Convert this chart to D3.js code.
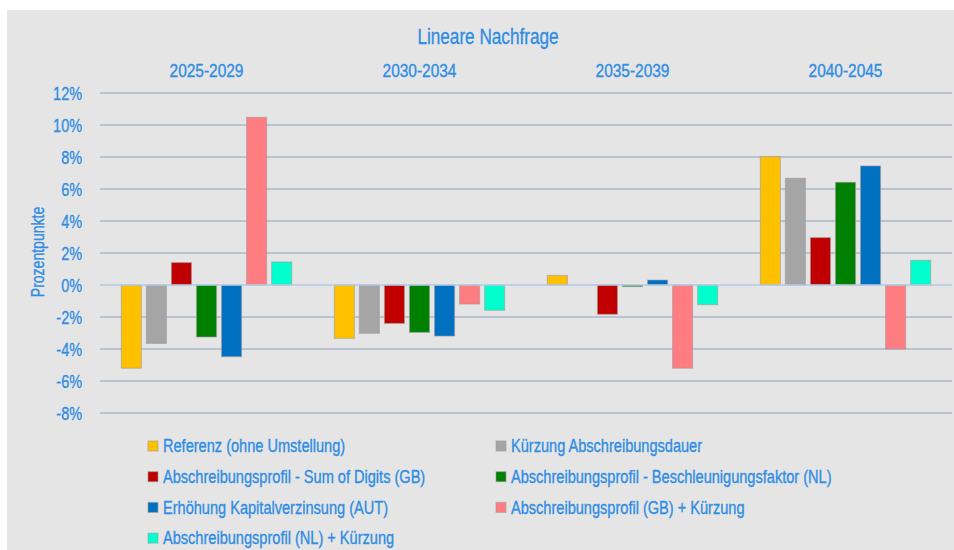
<!DOCTYPE html>
<html><head>
<meta charset="utf-8">
<script src="https://d3js.org/d3.v7.min.js"></script>
<style>
  body { margin: 0; background: white; }
  text { font-family: "Liberation Sans", Arial, sans-serif; fill: #2f8de4; stroke: #2f8de4; stroke-width: 0.35px; }
</style>
</head>
<body>
<svg id="chart" width="954" height="550"></svg>
<script>
  const periods = ["2025-2029", "2030-2034", "2035-2039", "2040-2045"];
  const seriesNames = [
    "Referenz (ohne Umstellung)",
    "Kürzung Abschreibungsdauer",
    "Abschreibungsprofil - Sum of Digits (GB)",
    "Abschreibungsprofil - Beschleunigungsfaktor (NL)",
    "Erhöhung Kapitalverzinsung (AUT)",
    "Abschreibungsprofil (GB) + Kürzung",
    "Abschreibungsprofil (NL) + Kürzung"
  ];
  const seriesColors = ["#ffc000", "#a5a5a5", "#c00000", "#008000", "#0070c0", "#ff7c80", "#00ffcc"];
  // values in % per series, one per period
  const referenz     = [-5.2, -3.33, 0.6, 8.02];
  const kuerzung     = [-3.65, -3.02, 0, 6.67];
  const sumOfDigits  = [1.4, -2.4, -1.83, 2.96];
  const beschleunig  = [-3.25, -2.96, -0.1, 6.42];
  const kapitalzins  = [-4.48, -3.19, 0.31, 7.44];
  const gbKuerzung   = [10.48, -1.19, -5.2, -4.0];
  const nlKuerzung   = [1.44, -1.58, -1.23, 1.54];
  const seriesValues = [referenz, kuerzung, sumOfDigits, beschleunig, kapitalzins, gbKuerzung, nlKuerzung];
  const yTicks = [12, 10, 8, 6, 4, 2, 0, -2, -4, -6, -8];

  const svg = d3.select("svg#chart");
  const margin = { top: 93, right: 2, bottom: 137, left: 100 };
  const width = 954, height = 550;
  const SX = 0.81; // squeeze text horizontally, the original font is a narrow one

  svg.append("rect").attr("x", 7).attr("y", 10).attr("width", width - 7).attr("height", height - 10)
    .attr("fill", "#e5e5e5");

  const y = d3.scaleLinear().domain([-8, 12]).range([height - margin.bottom, margin.top]);
  const x0 = d3.scaleBand().domain(periods).range([margin.left, width - margin.right]);
  const x1 = d3.scaleBand().domain(d3.range(seriesNames.length))
    .range([0, x0.bandwidth()]).paddingInner(0.2).paddingOuter(0.85);

  // gridlines
  svg.append("g").selectAll("line").data(yTicks.filter(d => d !== 0)).join("line")
    .attr("x1", margin.left).attr("x2", width - margin.right)
    .attr("y1", d => y(d)).attr("y2", d => y(d))
    .attr("stroke", "#a9b6c8")
    .attr("stroke-width", 1.6);

  // y tick labels
  svg.append("g").selectAll("text").data(yTicks).join("text")
    .attr("transform", d => `translate(82,${y(d)}) scale(0.76,1)`)
    .attr("dy", "0.35em")
    .attr("text-anchor", "end").attr("font-size", 19)
    .text(d => d + "%");

  // period labels on top
  svg.append("g").selectAll("text").data(periods).join("text")
    .attr("transform", d => `translate(${x0(d) + x0.bandwidth() / 2},77) scale(0.86,1)`)
    .attr("text-anchor", "middle").attr("font-size", 18)
    .text(d => d);

  // title
  svg.append("text").attr("transform", `translate(488,44) scale(0.78,1)`).attr("text-anchor", "middle")
    .attr("font-size", 22).text("Lineare Nachfrage");

  // y axis title
  svg.append("text").attr("transform", `translate(44,252) rotate(-90) scale(0.78,1)`)
    .attr("text-anchor", "middle").attr("font-size", 18).text("Prozentpunkte");

  // bars
  const groups = svg.append("g").selectAll("g").data(periods).join("g")
    .attr("transform", d => `translate(${x0(d)},0)`);
  groups.selectAll("rect")
    .data((p, pi) => seriesValues.map((vals, si) => ({ si: si, v: vals[pi] })))
    .join("rect")
    .attr("x", d => x1(d.si))
    .attr("width", x1.bandwidth())
    .attr("y", d => y(Math.max(0, d.v)))
    .attr("height", d => Math.abs(y(d.v) - y(0)))
    .attr("fill", d => seriesColors[d.si])
    .attr("stroke", d => d.v === 0 ? "none" : "#999")
    .attr("stroke-opacity", 0.6)
    .attr("stroke-width", 1);

  // zero line on top of the bars
  svg.append("line")
    .attr("x1", margin.left).attr("x2", width - margin.right)
    .attr("y1", y(0)).attr("y2", y(0))
    .attr("stroke", "#b2cbe4").attr("stroke-width", 1.6);

  // legend
  const legendPos = seriesNames.map((n, i) => ({ name: n, i: i, col: i % 2, row: Math.floor(i / 2) }));
  const legend = svg.append("g").selectAll("g").data(legendPos).join("g")
    .attr("transform", d => `translate(${d.col === 0 ? 148 : 496},${446 + d.row * 30.7})`);
  legend.append("rect").attr("x", 0).attr("y", -5).attr("width", 10).attr("height", 10)
    .attr("fill", d => seriesColors[d.i]).attr("stroke", "#999").attr("stroke-opacity", 0.6);
  legend.append("text").attr("transform", `translate(15,0) scale(${SX},1)`)
    .attr("dy", "0.35em").attr("font-size", 18)
    .text(d => d.name);
</script>
</body>
</html>
